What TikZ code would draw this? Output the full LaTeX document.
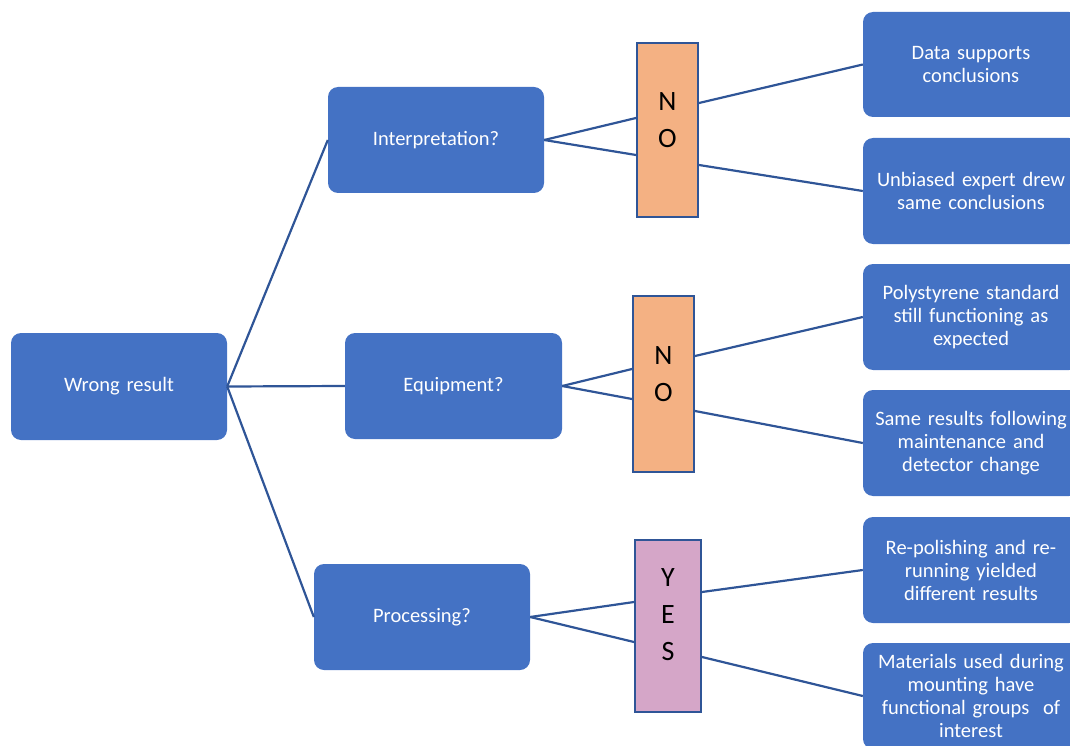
\documentclass[tikz,border=0pt]{standalone}
\usepackage{fontspec}
\setmainfont{Carlito}
\definecolor{boxblue}{HTML}{4472C4}
\definecolor{lineblue}{HTML}{2F5597}
\definecolor{noorange}{HTML}{F4B183}
\definecolor{yespink}{HTML}{D5A6C8}
\begin{document}
\begin{tikzpicture}[x=1pt,y=-1pt,
  bbox/.style={draw=none,fill=boxblue,rounded corners=10pt,text=white,align=center,
    font=\fontsize{20.5}{23}\selectfont,inner sep=2pt,minimum width=216pt,minimum height=106pt,text width=212pt},
  ansbox/.style={draw=lineblue,line width=2pt,minimum width=61pt},
  anstext/.style={align=center,font=\fontsize{28}{37}\selectfont,text=black},
  conn/.style={draw=lineblue,line width=2.2pt}]
\useasboundingbox (0,0) rectangle (1070,746);
\clip (0,0) rectangle (1070,746);
% left and middle boxes
\node[bbox,minimum height=107pt] (wrong) at (119,386.5) {Wrong result};
\node[bbox] (interp) at (436,140) {Interpretation?};
\node[bbox,minimum width=217pt] (equip) at (453.5,386) {Equipment?};
\node[bbox] (proc) at (422,617) {Processing?};
% answer boxes
\node[ansbox,fill=noorange,minimum height=174pt] (no1) at (667.5,130) {};
\node[anstext] (no1t) at (667.5,120) {N\\O};
\node[ansbox,fill=noorange,minimum height=176pt] (no2) at (663.5,384) {};
\node[anstext] (no2t) at (663.5,374) {N\\O};
\node[ansbox,fill=yespink,minimum width=66pt,minimum height=172pt] (yes) at (668,626) {};
\node[anstext] (yest) at (668,615) {Y\\E\\S};
% right boxes
\node[bbox,minimum height=105pt] (r1) at (971,64.5) {Data supports\\conclusions};
\node[bbox] (r2) at (971,191) {Unbiased expert drew\\same conclusions};
\node[bbox] (r3) at (971,317) {Polystyrene standard\\still functioning as\\expected};
\node[bbox] (r4) at (971,443) {Same results following\\maintenance and\\detector change};
\node[bbox] (r5) at (971,570) {Re-polishing and re-\\running yielded\\different results};
\node[bbox] (r6) at (971,696) {Materials used during\\mounting have\\functional groups\ \ of\\interest};
% connectors
\draw[conn] (wrong.east) -- (interp.west);
\draw[conn] (wrong.east) -- (equip.west);
\draw[conn] (wrong.east) -- (proc.west);
\draw[conn] (interp.east) -- ([yshift=12pt]no1.west);
\draw[conn] (interp.east) -- ([yshift=-25pt]no1.west);
\draw[conn] ([yshift=27pt]no1.east) -- (r1.west);
\draw[conn] ([yshift=-35pt]no1.east) -- (r2.west);
\draw[conn] (equip.east) -- ([yshift=15pt]no2.west);
\draw[conn] (equip.east) -- ([yshift=-15pt]no2.west);
\draw[conn] ([yshift=28pt]no2.east) -- (r3.west);
\draw[conn] ([yshift=-27pt]no2.east) -- (r4.west);
\draw[conn] (proc.east) -- ([yshift=24pt]yes.west);
\draw[conn] (proc.east) -- ([yshift=-16pt]yes.west);
\draw[conn] ([yshift=34pt]yes.east) -- (r5.west);
\draw[conn] ([yshift=-31pt]yes.east) -- (r6.west);
\end{tikzpicture}
\end{document}
